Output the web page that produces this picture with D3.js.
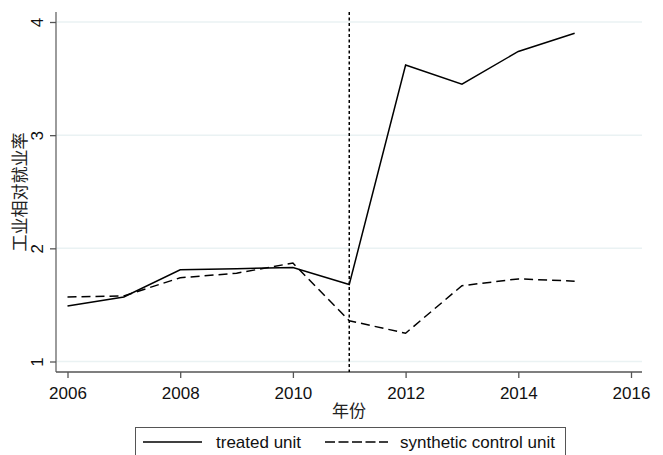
<!DOCTYPE html>
<html>
<head>
<meta charset="utf-8">
<script src="https://cdn.jsdelivr.net/npm/d3@7"></script>
<style>
  html, body { margin: 0; padding: 0; background: #fff; }
  svg { display: block; font-family: "Liberation Sans", Arial, "Noto Sans CJK SC", sans-serif; }
</style>
</head>
<body>
<svg id="chart" width="663" height="455"></svg>
<script>
// Employment ratio of the treated unit vs. its synthetic control, by year
const years = [2006, 2007, 2008, 2009, 2010, 2011, 2012, 2013, 2014, 2015];
const treatedUnit = [1.49, 1.57, 1.81, 1.82, 1.83, 1.68, 3.62, 3.45, 3.74, 3.90];
const syntheticUnit = [1.57, 1.58, 1.74, 1.78, 1.87, 1.36, 1.25, 1.67, 1.73, 1.71];
const treatmentYear = 2011;

const xTicks = [2006, 2008, 2010, 2012, 2014, 2016];
const yTicks = [1, 2, 3, 4];
const xTitle = "年份";
const yTitle = "工业相对就业率";
const legendLabels = ["treated unit", "synthetic control unit"];

const svg = d3.select("#chart");
const box = { left: 56, right: 642, top: 12, bottom: 372 };
const fontSize = 17;

const x = d3.scaleLinear().domain([2006, 2016]).range([67.5, 631]);
const y = d3.scaleLinear().domain([1, 4]).range([361.5, 22]);

// horizontal grid
svg.append("g")
  .selectAll("line")
  .data(yTicks)
  .join("line")
  .attr("x1", box.left).attr("x2", box.right)
  .attr("y1", d => y(d)).attr("y2", d => y(d))
  .attr("stroke", "#eaf2f3").attr("stroke-width", 1.5);

// y axis
const yAxis = svg.append("g")
  .attr("transform", `translate(${box.left},0)`)
  .call(d3.axisLeft(y).tickValues(yTicks).tickSize(6).tickSizeOuter(0).tickFormat(d3.format("d")));
yAxis.select(".domain").attr("d", `M0,${box.top}V${box.bottom}`).attr("stroke", "#666").attr("stroke-width", 1.3);
yAxis.selectAll(".tick line").attr("stroke", "#555").attr("stroke-width", 1.3);
yAxis.selectAll(".tick text")
  .attr("x", null)
  .attr("text-anchor", "middle")
  .attr("transform", "translate(-19,0) rotate(-90)")
  .attr("dy", "0.35em")
  .attr("font-size", fontSize).attr("fill", "#111")
  .style("font-family", "'Liberation Sans', Arial, sans-serif");

// x axis
const xAxis = svg.append("g")
  .attr("transform", `translate(0,${box.bottom})`)
  .call(d3.axisBottom(x).tickValues(xTicks).tickSize(6).tickSizeOuter(0).tickFormat(d3.format("d")));
xAxis.select(".domain").attr("d", `M${box.left},0H${box.right}`).attr("stroke", "#555").attr("stroke-width", 1.3);
xAxis.selectAll(".tick line").attr("stroke", "#555").attr("stroke-width", 1.3);
xAxis.selectAll(".tick text")
  .attr("y", 21).attr("dy", "0.35em")
  .attr("font-size", fontSize).attr("fill", "#111")
  .style("font-family", "'Liberation Sans', Arial, sans-serif");

// axis titles
svg.append("text")
  .attr("x", 349).attr("y", 411)
  .attr("dy", "0.35em").attr("text-anchor", "middle")
  .attr("font-size", fontSize).attr("fill", "#222")
  .style("font-family", "'Noto Sans CJK SC', sans-serif")
  .text(xTitle);

svg.append("text")
  .attr("transform", `translate(20,${(box.top + box.bottom) / 2}) rotate(-90)`)
  .attr("dy", "0.35em").attr("text-anchor", "middle")
  .attr("font-size", fontSize).attr("fill", "#222")
  .style("font-family", "'Noto Sans CJK SC', sans-serif")
  .text(yTitle);

// treatment year marker
svg.append("line")
  .attr("x1", x(treatmentYear)).attr("x2", x(treatmentYear))
  .attr("y1", box.top).attr("y2", box.bottom)
  .attr("stroke", "#000").attr("stroke-width", 1.5)
  .attr("stroke-dasharray", "3,2.5");

// series
const line = d3.line().x((d, i) => x(years[i])).y(d => y(d));

svg.append("path")
  .datum(treatedUnit)
  .attr("d", line)
  .attr("fill", "none").attr("stroke", "#000").attr("stroke-width", 1.5);

svg.append("path")
  .datum(syntheticUnit)
  .attr("d", line)
  .attr("fill", "none").attr("stroke", "#000").attr("stroke-width", 1.5)
  .attr("stroke-dasharray", "9,5");

// legend
const legend = svg.append("g");
legend.append("rect")
  .attr("x", 135.5).attr("y", 427.5).attr("width", 430).attr("height", 40)
  .attr("fill", "#fff").attr("stroke", "#555").attr("stroke-width", 1);

const legendItems = [
  { label: legendLabels[0], x1: 143, x2: 202, tx: 216, dash: null },
  { label: legendLabels[1], x1: 325, x2: 388, tx: 400, dash: "10,3.5" }
];
legendItems.forEach(it => {
  legend.append("line")
    .attr("x1", it.x1).attr("x2", it.x2).attr("y1", 442).attr("y2", 442)
    .attr("stroke", "#000").attr("stroke-width", 1.5)
    .attr("stroke-dasharray", it.dash);
  legend.append("text")
    .attr("x", it.tx).attr("y", 442).attr("dy", "0.35em")
    .attr("font-size", fontSize).attr("fill", "#111")
    .text(it.label);
});
</script>
</body>
</html>
